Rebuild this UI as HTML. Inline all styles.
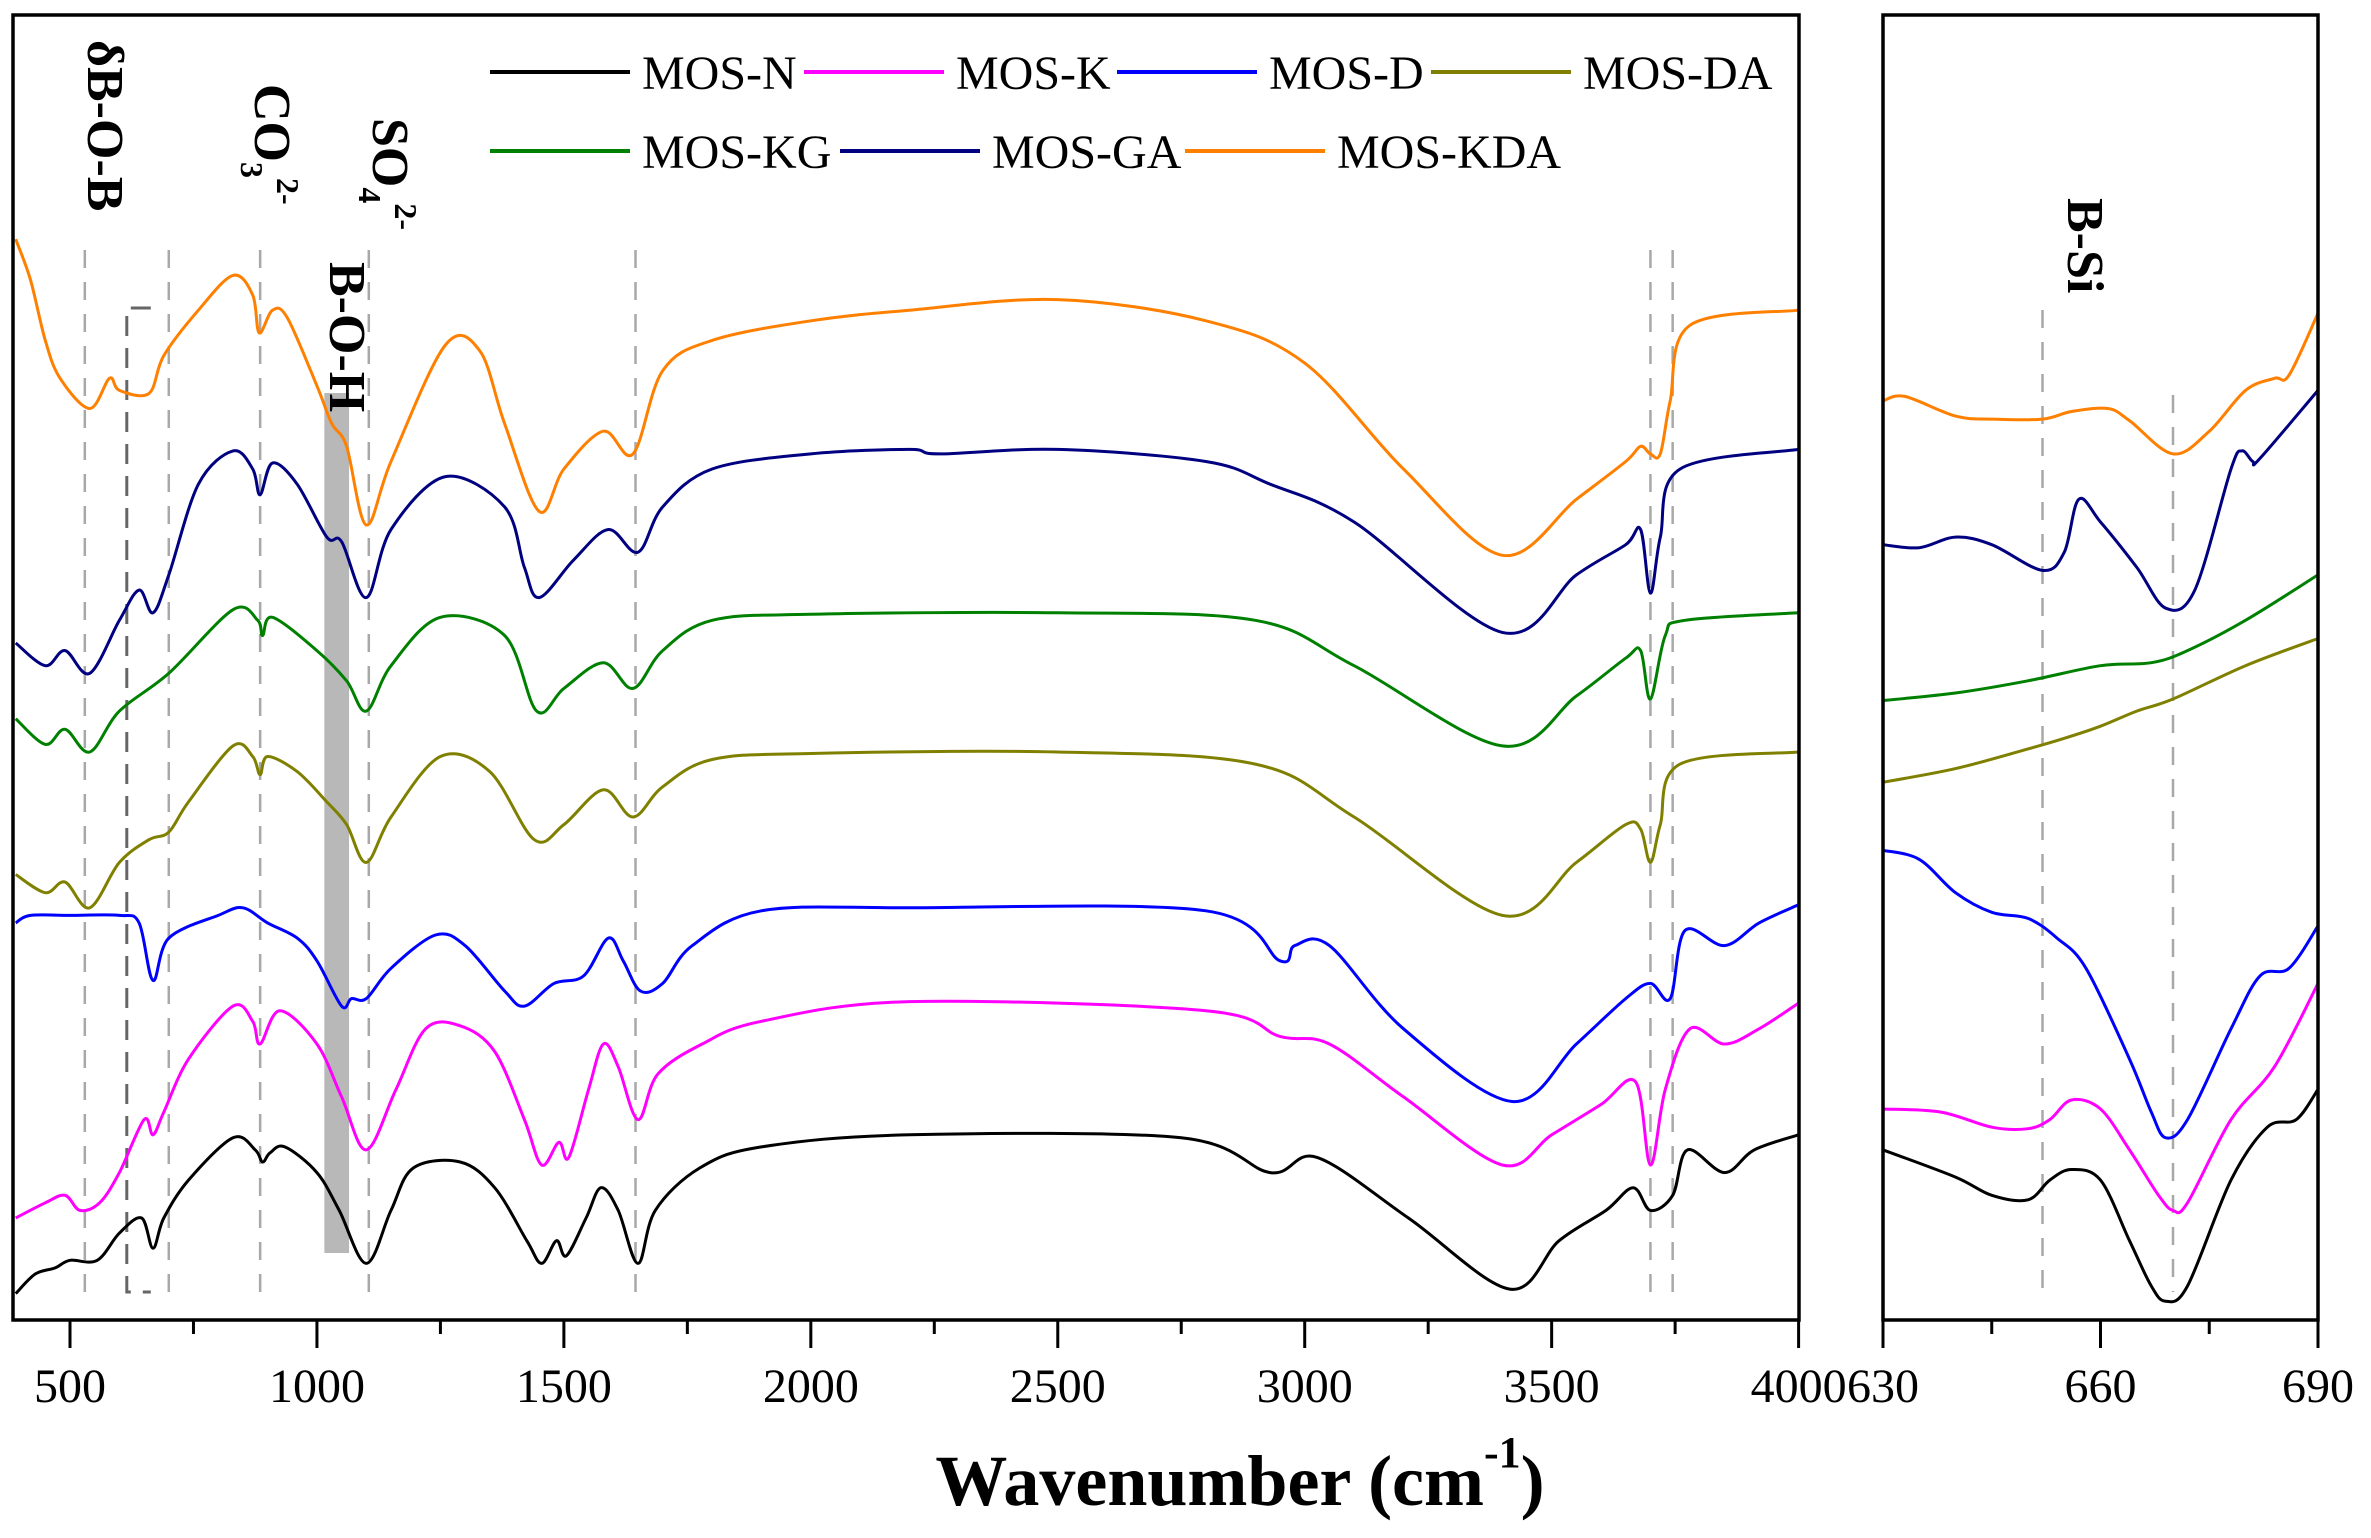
<!DOCTYPE html>
<html><head><meta charset="utf-8">
<style>
html,body{margin:0;padding:0;background:#fff;}
svg{display:block;}
text{font-family:"Liberation Serif","DejaVu Serif",serif;}
</style></head>
<body>
<svg id="chart" width="2371" height="1538" viewBox="0 0 2371 1538" xmlns="http://www.w3.org/2000/svg">
<g id="guides"></g>
<g id="series"></g>
<g id="frames"></g>
<g id="annot"></g>
<g id="legend"></g>
</svg>
<script>
// ---- data (wavenumber, relative offset intensity; larger = lower on plot) ----
const seriesNames = ["MOS-N","MOS-K","MOS-D","MOS-DA","MOS-KG","MOS-GA","MOS-KDA"];
const seriesColors = ["#000000","#ff00ff","#0000ff","#808000","#008000","#000080","#ff8000"];

const mosN = [[390,855],[430,842],[470,838],[500,833],[555,833],[600,815],[645,805],[668,825],[690,805],[740,780],[830,752],[875,760],[890,768],[905,762],[935,758],[1000,775],[1045,800],[1100,835],[1150,800],[1195,772],[1290,768],[1360,785],[1425,820],[1455,835],[1485,820],[1505,830],[1545,805],[1575,785],[1610,800],[1650,835],[1685,800],[1775,772],[1900,758],[2200,750],[2750,752],[2930,775],[3025,765],[3210,805],[3415,852],[3515,820],[3610,800],[3665,785],[3700,800],[3745,790],[3775,760],[3850,775],[3910,760],[4000,750]];
const mosK = [[390,805],[450,795],[490,790],[520,800],[560,795],[600,775],[650,740],[668,750],[690,735],[740,700],[830,665],[870,675],[885,690],[925,668],[1000,690],[1050,725],[1100,760],[1160,720],[1220,680],[1290,678],[1360,695],[1420,740],[1455,770],[1490,755],[1510,765],[1550,720],[1580,690],[1610,705],[1650,740],[1690,710],[1780,690],[1900,675],[2200,662],[2800,668],[2950,685],[3050,690],[3200,725],[3400,770],[3500,750],[3600,730],[3670,715],[3700,770],[3730,720],[3780,680],[3850,690],[3920,680],[4000,663]];
const mosD = [[390,610],[420,605],[500,605],[600,605],[640,610],[668,648],[700,620],[800,605],[850,600],[900,610],[960,620],[1000,635],[1050,665],[1070,660],[1100,660],[1150,640],[1240,618],[1300,625],[1380,655],[1420,665],[1480,650],[1540,645],[1590,620],[1620,635],[1655,655],[1700,650],[1760,625],[1900,602],[2200,600],[2800,602],[2950,635],[2980,625],[3050,625],[3200,680],[3420,728],[3550,690],[3650,660],[3700,650],[3740,660],[3770,615],[3850,625],[3920,610],[4000,598]];
const mosDA = [[390,578],[450,590],[490,583],[540,600],[600,570],[660,555],[700,550],[740,530],[830,493],[870,500],[885,512],[900,500],[960,510],[1020,530],[1060,545],[1100,570],[1150,540],[1250,500],[1350,510],[1440,555],[1500,545],[1580,522],[1640,540],[1700,520],[1800,502],[2000,498],[2500,497],[2900,505],[3100,540],[3400,605],[3550,570],[3650,545],[3680,548],[3700,570],[3720,545],[3760,505],[4000,497]];
const mosKG = [[390,475],[450,492],[490,482],[540,497],[600,470],[700,445],[830,403],[880,410],[890,420],[910,408],[1000,430],[1060,450],[1100,470],[1150,440],[1250,408],[1380,420],[1445,470],[1500,455],[1580,438],[1640,455],[1700,430],[1800,410],[2000,406],[2500,405],[2900,410],[3100,440],[3400,493],[3550,460],[3650,435],[3680,430],[3700,462],[3730,420],[3770,410],[4000,405]];
const mosGA = [[390,425],[450,440],[490,430],[540,445],[600,410],[640,390],[668,405],[700,380],[760,320],[830,298],[870,310],[885,327],[910,306],[960,320],[1020,355],[1050,358],[1100,395],[1150,350],[1260,315],[1380,335],[1420,375],[1450,395],[1520,370],[1590,350],[1650,365],[1700,335],[1800,310],[2000,300],[2200,297],[2260,300],[2500,297],[2800,305],[2930,320],[3100,345],[3400,418],[3550,380],[3650,360],[3680,350],[3700,392],[3720,355],[3760,310],[4000,297]];
const mosKDA = [[390,158],[420,185],[450,225],[480,250],[540,270],[580,250],[600,258],[660,260],[690,235],[760,205],[830,182],[870,195],[883,220],[910,205],[940,210],[1000,255],[1030,280],[1060,295],[1100,347],[1150,305],[1260,228],[1330,232],[1380,280],[1450,338],[1500,310],[1580,285],[1640,300],[1700,245],[1800,225],[2000,212],[2200,205],[2500,198],[2800,212],[3000,240],[3200,310],[3400,367],[3550,330],[3650,305],[3680,295],[3700,300],[3720,300],[3740,265],[3780,215],[4000,205]];
const mainSeries = [mosN,mosK,mosD,mosDA,mosKG,mosGA,mosKDA];

const zN = [[630,760],[640,778],[645,790],[650,793],[653,780],[656,773],[660,780],[664,820],[667,850],[669,860],[672,850],[678,780],[683,745],[687,740],[690,720]];
const zK = [[630,733],[638,735],[645,745],[650,746],[653,740],[656,727],[660,733],[664,760],[668,790],[670,800],[672,795],[678,740],[684,705],[690,650]];
const zD = [[630,562],[635,568],[640,590],[645,603],[650,607],[654,620],[658,640],[664,700],[667,735],[669,752],[672,740],[678,680],[682,645],[686,640],[690,612]];
const zDA = [[630,517],[640,508],[650,495],[655,488],[660,480],[665,470],[670,462],[680,440],[690,422]];
const zKG = [[630,463],[640,458],[650,450],[660,440],[667,438],[672,430],[680,410],[690,380]];
const zGA = [[630,360],[635,362],[640,355],[645,360],[652,377],[655,365],[657,330],[660,345],[665,375],[669,402],[673,390],[678,310],[679.5,298],[681,305],[682,303],[690,258]];
const zKDA = [[630,265],[633,262],[640,275],[645,277],[652,277],[656,272],[661,270],[664,278],[670,300],[675,285],[680,258],[684,250],[686,248],[690,207]];
const zoomSeries = [zN,zK,zD,zDA,zKG,zGA,zKDA];

const mainTicks = [500,1000,1500,2000,2500,3000,3500,4000];
const mainMinor = [750,1250,1750,2250,2750,3250,3750];
const zoomTicks = [630,660,690];
const zoomMinor = [645,675];
const mainGuides = [530,700,885,1105,1645,3700,3745];
const zoomGuides = [652,670];

// ---- scales ----
const M = {x0:13,x1:1799,y0:15,y1:1320};
const Z = {x0:1883,x1:2318,y0:15,y1:1320};
function xMain(v){return 70+(v-500)*(1728.6/3500);}
function xZoom(v){return Z.x0+(v-630)*(Z.x1-Z.x0)/60;}
function yS(v){return v*1.513;}

const NS="http://www.w3.org/2000/svg";
function mk(tag,attrs,parent){const e=document.createElementNS(NS,tag);for(const k in attrs)e.setAttribute(k,attrs[k]);parent.appendChild(e);return e;}
function smooth(pts){
  let d="M"+pts[0][0].toFixed(1)+","+pts[0][1].toFixed(1);
  for(let i=0;i<pts.length-1;i++){
    const p0=pts[i-1]||pts[i],p1=pts[i],p2=pts[i+1],p3=pts[i+2]||p2;
    const c1x=p1[0]+(p2[0]-p0[0])/6,c1y=p1[1]+(p2[1]-p0[1])/6;
    const c2x=p2[0]-(p3[0]-p1[0])/6,c2y=p2[1]-(p3[1]-p1[1])/6;
    d+=" C"+c1x.toFixed(1)+","+c1y.toFixed(1)+" "+c2x.toFixed(1)+","+c2y.toFixed(1)+" "+p2[0].toFixed(1)+","+p2[1].toFixed(1);
  }
  return d;
}
const gG=document.getElementById('guides'),gS=document.getElementById('series'),gF=document.getElementById('frames'),gA=document.getElementById('annot'),gL=document.getElementById('legend');

const defs=mk('defs',{},document.getElementById('chart'));
const c1=mk('clipPath',{id:'clipMain'},defs);mk('rect',{x:M.x0,y:M.y0,width:M.x1-M.x0,height:M.y1-M.y0},c1);
const c2=mk('clipPath',{id:'clipZoom'},defs);mk('rect',{x:Z.x0,y:Z.y0,width:Z.x1-Z.x0,height:Z.y1-Z.y0},c2);

const gray="#a8a8a8";
mainGuides.forEach(v=>{
  const l=mk('line',{x1:xMain(v),x2:xMain(v),y1:250,y2:1292,stroke:gray,'stroke-width':2.5,'stroke-dasharray':'18,14'},gG);
  
  
});
const br=mk('path',{d:"M"+(xMain(615)+24)+",308 H"+xMain(615)+" V1292 H"+(xMain(615)+24),fill:'none',stroke:'#666','stroke-width':3,'stroke-dasharray':'20,12'},gG);


const bar=mk('rect',{x:xMain(1015),y:393,width:xMain(1065)-xMain(1015),height:860,fill:'#b8b8b8'},gG);


zoomGuides.forEach((v,i)=>{
  const l=mk('line',{x1:xZoom(v),x2:xZoom(v),y1:i==0?310:395,y2:1292,stroke:gray,'stroke-width':2.5,'stroke-dasharray':'18,14'},gG);
  
  
});

mainSeries.forEach((s,i)=>{
  const p=mk('path',{d:smooth(s.map(d=>[xMain(d[0]),yS(d[1])])),fill:'none',stroke:seriesColors[i],'stroke-width':3,'stroke-linejoin':'round','clip-path':'url(#clipMain)'},gS);
  
  
});
zoomSeries.forEach((s,i)=>{
  const p=mk('path',{d:smooth(s.map(d=>[xZoom(d[0]),yS(d[1])])),fill:'none',stroke:seriesColors[i],'stroke-width':3,'stroke-linejoin':'round','clip-path':'url(#clipZoom)'},gS);
  
  
});

[[M,'main-plot-frame'],[Z,'zoom-plot-frame']].forEach(f=>{
  const r=mk('rect',{x:f[0].x0,y:f[0].y0,width:f[0].x1-f[0].x0,height:f[0].y1-f[0].y0,fill:'none',stroke:'#000','stroke-width':3.5},gF);
  
  
});
mainTicks.forEach(v=>{
  const t=mk('line',{x1:xMain(v),x2:xMain(v),y1:1320,y2:1348,stroke:'#000','stroke-width':3},gF);
  
  
  const tx=mk('text',{x:xMain(v),y:1402,'font-size':48,'text-anchor':'middle',fill:'#000'},gF);
  tx.textContent=v;
  
  
});
mainMinor.forEach(v=>{
  const t=mk('line',{x1:xMain(v),x2:xMain(v),y1:1320,y2:1334,stroke:'#000','stroke-width':3},gF);
  
  
});
zoomTicks.forEach(v=>{
  const t=mk('line',{x1:xZoom(v),x2:xZoom(v),y1:1320,y2:1348,stroke:'#000','stroke-width':3},gF);
  
  
  const tx=mk('text',{x:xZoom(v),y:1402,'font-size':48,'text-anchor':'middle',fill:'#000'},gF);
  tx.textContent=v;
  
  
});
zoomMinor.forEach(v=>{
  const t=mk('line',{x1:xZoom(v),x2:xZoom(v),y1:1320,y2:1334,stroke:'#000','stroke-width':3},gF);
  
  
});

const legendRows=[[0,1,2,3],[4,5,6]];
const legendX=[[490,804,1117,1431],[490,840,1185]];
legendRows.forEach((row,r)=>{
  const yy=r==0?72:151;
  row.forEach((si,j)=>{
    const x=legendX[r][j];
    const l=mk('line',{x1:x,x2:x+140,y1:yy,y2:yy,stroke:seriesColors[si],'stroke-width':4},gL);
    
    
    const t=mk('text',{x:x+152,y:yy+17,'font-size':48,fill:'#000'},gL);
    t.textContent=seriesNames[si];
    
    
  });
});
</script>
<svg style="position:absolute;left:0;top:0" width="2371" height="1538" viewBox="0 0 2371 1538" xmlns="http://www.w3.org/2000/svg">
  <text x="1240" y="1505" font-size="72" font-weight="bold" text-anchor="middle" font-family="Liberation Serif, serif">Wavenumber (cm<tspan dy="-38" font-size="44">-1</tspan><tspan dy="38">)</tspan></text>
  <g font-weight="bold" font-size="52" font-family="Liberation Serif, serif" fill="#000">
    <text transform="translate(88,40) rotate(90)">δB-O-B</text>
    <text transform="translate(255,84) rotate(90)">CO<tspan font-size="32" dy="14">3</tspan><tspan font-size="32" dy="-36">2-</tspan></text>
    <text transform="translate(373,118) rotate(90)">SO<tspan font-size="32" dy="14">4</tspan><tspan font-size="32" dy="-36">2-</tspan></text>
    <text transform="translate(330,262) rotate(90)">B-O-H</text>
    <text transform="translate(2068,198) rotate(90)">B-Si</text>
  </g>
</svg>
</body></html>
